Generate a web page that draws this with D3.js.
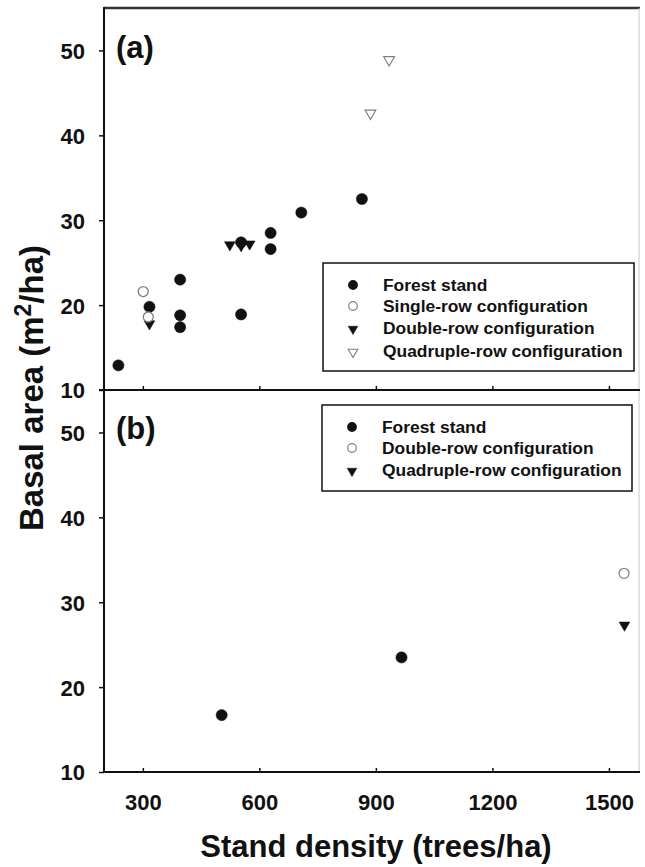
<!DOCTYPE html>
<html>
<head>
<meta charset="utf-8">
<script src="https://cdn.jsdelivr.net/npm/d3@7"></script>
<style>
  html, body { margin: 0; padding: 0; background: #fff; }
  svg { display: block; font-family: Arial, "Liberation Sans", sans-serif; }
</style>
</head>
<body>
<svg id="chart" width="645" height="867"></svg>
<script>
// ---- data ----
const xTicks = [300, 600, 900, 1200, 1500];
const yTicks = [10, 20, 30, 40, 50];

// Panel (a)
const forestA_x = [237, 317, 396, 396, 396, 553, 553, 629, 629, 708, 864];
const forestA_y = [12.9, 19.8, 23.0, 18.8, 17.4, 18.9, 27.4, 28.5, 26.6, 30.9, 32.5];
const singleA_x = [301, 314];
const singleA_y = [21.6, 18.6];
const doubleA_x = [317, 524, 553, 575];
const doubleA_y = [17.8, 27.1, 27.0, 27.2];
const quadA_x = [886, 934];
const quadA_y = [42.6, 48.9];

// Panel (b)
const forestB_x = [503, 966];
const forestB_y = [16.7, 23.5];
const doubleB_x = [1539];
const doubleB_y = [33.4];
const quadB_x = [1540];
const quadB_y = [27.3];

const legendA = ["Forest stand", "Single-row configuration", "Double-row configuration", "Quadruple-row configuration"];
const legendB = ["Forest stand", "Double-row configuration", "Quadruple-row configuration"];

// ---- layout ----
const svg = d3.select("#chart");
svg.append("rect").attr("width", 645).attr("height", 867).attr("fill", "#fff");

const left = 104, right = 640;
const x = d3.scaleLinear().domain([200, 1580]).range([left, right]);
const yA = d3.scaleLinear().domain([10, 55]).range([390, 8]);
const yB = d3.scaleLinear().domain([10, 55]).range([772, 390]);

const ink = "#111";
const grey = "#808080";
const zip = (xs, ys) => xs.map((v, i) => [v, ys[i]]);

function marker(g, pts, y, type, r) {
  const sel = g.selectAll(null).data(pts).enter();
  if (type === "filledCircle" || type === "openCircle") {
    sel.append("circle")
      .attr("cx", d => x(d[0])).attr("cy", d => y(d[1])).attr("r", r)
      .attr("fill", type === "filledCircle" ? ink : "#fff")
      .attr("stroke", type === "filledCircle" ? ink : grey)
      .attr("stroke-width", type === "filledCircle" ? 0.5 : 1.3);
  } else {
    const sym = d3.symbol().type(d3.symbolTriangle).size(r);
    sel.append("path")
      .attr("d", sym)
      .attr("transform", d => `translate(${x(d[0])},${y(d[1])}) rotate(180)`)
      .attr("fill", type === "filledTri" ? ink : "#fff")
      .attr("stroke", type === "filledTri" ? ink : grey)
      .attr("stroke-width", type === "filledTri" ? 0.5 : 1.2);
  }
}

function panel(y, bottomY, drawTickLabelsX) {
  const g = svg.append("g");
  const ay = d3.axisLeft(y).tickValues(yTicks).tickSize(5).tickPadding(14).tickFormat(d3.format("d"));
  const gy = g.append("g").attr("transform", `translate(${left},0)`).call(ay);
  gy.select(".domain").remove();
  gy.selectAll(".tick line").attr("stroke", ink).attr("stroke-width", 1.5);
  gy.selectAll(".tick text").attr("fill", ink).attr("font-size", 22).attr("font-weight", "bold")
    .attr("font-family", "Arial, 'Liberation Sans', sans-serif").attr("dy", "0.36em");
  const ax = d3.axisBottom(x).tickValues(xTicks).tickSize(-4).tickPadding(22).tickFormat(d3.format("d"));
  const gx = g.append("g").attr("transform", `translate(0,${bottomY})`).call(ax);
  gx.select(".domain").remove();
  gx.selectAll(".tick line").attr("stroke", ink).attr("stroke-width", 1.5);
  if (drawTickLabelsX) {
    gx.selectAll(".tick text").attr("fill", ink).attr("font-size", 22).attr("font-weight", "bold")
      .attr("font-family", "Arial, 'Liberation Sans', sans-serif").attr("dy", "0.71em");
  } else {
    gx.selectAll(".tick text").remove();
  }
  return g;
}

const gA = panel(yA, 390, false);
const gB = panel(yB, 772, true);

// frame lines
svg.append("line").attr("x1", left).attr("x2", right).attr("y1", 8).attr("y2", 8)
  .attr("stroke", "#333").attr("stroke-width", 2.5);
svg.append("line").attr("x1", right - 1).attr("x2", right - 1).attr("y1", 8).attr("y2", 772)
  .attr("stroke", "#c8c8c8").attr("stroke-width", 1);
svg.append("line").attr("x1", left - 5).attr("x2", right).attr("y1", 390).attr("y2", 390)
  .attr("stroke", ink).attr("stroke-width", 2);
svg.append("line").attr("x1", left).attr("x2", right).attr("y1", 772).attr("y2", 772)
  .attr("stroke", ink).attr("stroke-width", 2);
svg.append("line").attr("x1", left).attr("x2", left).attr("y1", 7).attr("y2", 773)
  .attr("stroke", ink).attr("stroke-width", 2);

// markers panel (a)
marker(gA, zip(doubleA_x, doubleA_y), yA, "filledTri", 50);
marker(gA, zip(forestA_x, forestA_y), yA, "filledCircle", 5.6);
marker(gA, zip(singleA_x, singleA_y), yA, "openCircle", 5);
marker(gA, zip(quadA_x, quadA_y), yA, "openTri", 50);

// markers panel (b)
marker(gB, zip(forestB_x, forestB_y), yB, "filledCircle", 5.6);
marker(gB, zip(doubleB_x, doubleB_y), yB, "openCircle", 5);
marker(gB, zip(quadB_x, quadB_y), yB, "filledTri", 50);

// panel labels
svg.append("text").attr("x", 116).attr("y", 58).text("(a)")
  .attr("font-size", 31).attr("font-weight", "bold").attr("fill", ink);
svg.append("text").attr("x", 116).attr("y", 439).text("(b)")
  .attr("font-size", 31).attr("font-weight", "bold").attr("fill", ink);

// legends
function legend(x0, y0, w, h, labels, types, rowY) {
  const g = svg.append("g");
  g.append("rect").attr("x", x0).attr("y", y0).attr("width", w).attr("height", h)
    .attr("fill", "#fff").attr("stroke", ink).attr("stroke-width", 1.5);
  labels.forEach((lab, i) => {
    const cy = rowY[i];
    const t = types[i];
    const cx = x0 + 30;
    if (t === "filledCircle" || t === "openCircle") {
      g.append("circle").attr("cx", cx).attr("cy", cy).attr("r", 4.3)
        .attr("fill", t === "filledCircle" ? ink : "#fff")
        .attr("stroke", t === "filledCircle" ? ink : grey).attr("stroke-width", 1.2);
    } else {
      g.append("path").attr("d", d3.symbol().type(d3.symbolTriangle).size(40))
        .attr("transform", `translate(${cx},${cy + 1}) rotate(180)`)
        .attr("fill", t === "filledTri" ? ink : "#fff")
        .attr("stroke", t === "filledTri" ? ink : grey).attr("stroke-width", t === "filledTri" ? 0.5 : 1.1);
    }
    g.append("text").attr("x", x0 + 60).attr("y", cy).attr("dy", "0.36em").text(lab)
      .attr("font-size", 17.4).attr("font-weight", "bold").attr("fill", ink);
  });
}
legend(323, 263, 311, 108, legendA, ["filledCircle", "openCircle", "filledTri", "openTri"], [285, 306, 328, 351]);
legend(322, 405, 310, 86, legendB, ["filledCircle", "openCircle", "filledTri"], [427, 448, 470]);

// axis titles
svg.append("text").attr("x", 376).attr("y", 857).attr("text-anchor", "middle")
  .text("Stand density (trees/ha)")
  .attr("font-size", 31).attr("font-weight", "bold").attr("fill", ink);

const yt = svg.append("text").attr("transform", "translate(43,388) rotate(-90)")
  .attr("text-anchor", "middle").attr("font-size", 33).attr("font-weight", "bold").attr("fill", ink);
yt.append("tspan").text("Basal area (m");
yt.append("tspan").attr("dy", -12).attr("font-size", 23).text("2");
yt.append("tspan").attr("dy", 12).text("/ha)");
</script>
</body>
</html>
